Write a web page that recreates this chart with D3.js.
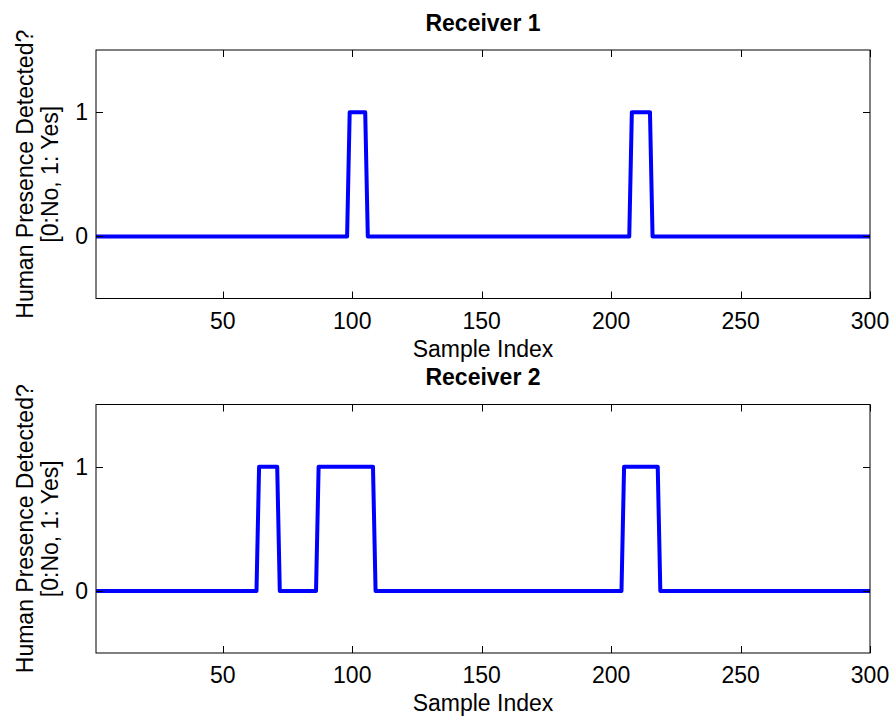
<!DOCTYPE html>
<html>
<head>
<meta charset="utf-8">
<script src="https://cdn.jsdelivr.net/npm/d3@7"></script>
<style>
  html, body { margin: 0; padding: 0; background: #fff; }
  text { font-family: "Liberation Sans", Arial, Helvetica, sans-serif; fill: #000; }
</style>
</head>
<body>
<svg id="chart" width="896" height="719"></svg>
<script>
// ---- data (vertices of the step signals: sample index, detection value) ----
const titles = ["Receiver 1", "Receiver 2"];
const r1Index = [1, 98, 99, 105, 106, 207, 208, 215, 216, 300];
const r1Value = [0, 0, 1, 1, 0, 0, 1, 1, 0, 0];
const r2Index = [1, 63, 64, 71, 72, 86, 87, 108, 109, 204, 205, 218, 219, 300];
const r2Value = [0, 0, 1, 1, 0, 0, 1, 1, 0, 0, 1, 1, 0, 0];
const xTicks = [50, 100, 150, 200, 250, 300];
const yTicks = [0, 1];
const xDomain = [1, 300];
const yDomain = [-0.5, 1.5];
const xLabel = "Sample Index";
const yLabelLines = ["Human Presence Detected?", "[0:No, 1: Yes]"];

const series = [
  r1Index.map((x, i) => ({ x, y: r1Value[i] })),
  r2Index.map((x, i) => ({ x, y: r2Value[i] }))
];

const svg = d3.select("#chart");
const left = 96, right = 870;
const panelTops = [50, 404.5];
const panelH = 248.5;
const FS = 23;
const tickLen = 7;

panelTops.forEach((top, p) => {
  const bottom = top + panelH;
  const x = d3.scaleLinear().domain(xDomain).range([left, right]);
  const y = d3.scaleLinear().domain(yDomain).range([bottom, top]);
  const g = svg.append("g");

  // data line
  const line = d3.line().x(d => x(d.x)).y(d => y(d.y));
  g.append("path")
    .datum(series[p])
    .attr("d", line)
    .attr("fill", "none")
    .attr("stroke", "#0000ff")
    .attr("stroke-width", 4)
    .attr("stroke-linejoin", "round");

  // box
  g.append("rect")
    .attr("x", left).attr("y", top)
    .attr("width", right - left).attr("height", bottom - top)
    .attr("fill", "none").attr("stroke", "#000").attr("stroke-width", 1);

  // x ticks (inward, mirrored)
  xTicks.forEach(t => {
    const px = Math.round(x(t)) + 0.5;
    g.append("line").attr("x1", px).attr("x2", px).attr("y1", bottom).attr("y2", bottom - tickLen)
      .attr("stroke", "#000").attr("stroke-width", 1);
    g.append("line").attr("x1", px).attr("x2", px).attr("y1", top).attr("y2", top + tickLen)
      .attr("stroke", "#000").attr("stroke-width", 1);
    g.append("text").attr("x", x(t)).attr("y", bottom + 30)
      .attr("text-anchor", "middle").attr("font-size", FS).text(t);
  });

  // y ticks
  yTicks.forEach(t => {
    const py = Math.round(y(t)) + 0.5;
    g.append("line").attr("x1", left).attr("x2", left + tickLen).attr("y1", py).attr("y2", py)
      .attr("stroke", "#000").attr("stroke-width", 1);
    g.append("line").attr("x1", right).attr("x2", right - tickLen).attr("y1", py).attr("y2", py)
      .attr("stroke", "#000").attr("stroke-width", 1);
    g.append("text").attr("x", 88).attr("y", y(t)).attr("dy", "0.35em")
      .attr("text-anchor", "end").attr("font-size", FS).text(t);
  });

  // x label
  g.append("text").attr("x", (left + right) / 2).attr("y", bottom + 58)
    .attr("text-anchor", "middle").attr("font-size", FS).text(xLabel);

  // title
  g.append("text").attr("x", (left + right) / 2).attr("y", top - 19.5)
    .attr("text-anchor", "middle").attr("font-size", FS).attr("font-weight", "bold").text(titles[p]);

  // y label (two lines, rotated)
  const cy = (top + bottom) / 2;
  yLabelLines.forEach((s, i) => {
    const bx = 32.5 + i * 25.5;
    g.append("text").attr("transform", `translate(${bx},${cy}) rotate(-90)`)
      .attr("text-anchor", "middle").attr("font-size", FS).text(s);
  });
});
</script>
</body>
</html>
